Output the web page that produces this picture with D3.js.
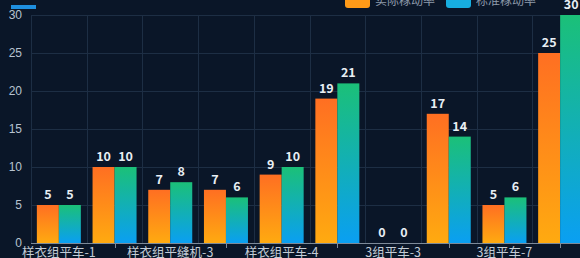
<!DOCTYPE html>
<html>
<head>
<meta charset="utf-8">
<script src="https://cdn.jsdelivr.net/npm/d3@7"></script>
<style>
  html, body { margin: 0; padding: 0; background: #0a1628; overflow: hidden; }
  svg { display: block; font-family: "Noto Sans CJK SC", "Noto Sans", sans-serif; }
</style>
</head>
<body>
<svg id="chart"></svg>
<script>
// data
const categories = ['样衣组平车-1', '样衣组平车-2', '样衣组平缝机-3', '样衣组平缝机-4', '样衣组平车-4',
                    '样衣组平车-5', '3组平车-3', '3组平车-5', '3组平车-7', '3组平车-8'];
const actualRate = [5, 10, 7, 7, 9, 19, 0, 17, 5, 25];
const standardRate = [5, 10, 8, 6, 10, 21, 0, 14, 6, 30];
const seriesNames = ['实际稼动率', '标准稼动率'];
const yTicks = [0, 5, 10, 15, 20, 25, 30];

const width = 580, height = 258;
const margin = {top: 15, left: 31, bottom: 15};

const svg = d3.select('#chart')
    .attr('width', width)
    .attr('height', height);

const defs = svg.append('defs');
const g1 = defs.append('linearGradient').attr('id', 'gOrange')
    .attr('x1', 0).attr('y1', 0).attr('x2', 0).attr('y2', 1);
g1.append('stop').attr('offset', '0%').attr('stop-color', '#ff6f22');
g1.append('stop').attr('offset', '100%').attr('stop-color', '#ffaa10');
const g2 = defs.append('linearGradient').attr('id', 'gGreen')
    .attr('x1', 0).attr('y1', 0).attr('x2', 0).attr('y2', 1);
g2.append('stop').attr('offset', '0%').attr('stop-color', '#1bc078');
g2.append('stop').attr('offset', '100%').attr('stop-color', '#0a9ff2');

const x = d3.scaleBand()
    .domain(categories)
    .range([margin.left, 588])
    .padding(0);

const y = d3.scaleLinear()
    .domain([0, 30])
    .range([243, margin.top]);

// grid
svg.append('g')
    .selectAll('line')
    .data(yTicks.slice(1))
    .join('line')
    .attr('x1', margin.left).attr('x2', width)
    .attr('y1', d => y(d) + 0.5).attr('y2', d => y(d) + 0.5)
    .attr('stroke', '#1d2e44').attr('stroke-width', 1);

svg.append('g')
    .selectAll('line')
    .data(categories)
    .join('line')
    .attr('x1', d => Math.round(x(d)) + 0.5).attr('x2', d => Math.round(x(d)) + 0.5)
    .attr('y1', y(30)).attr('y2', y(0))
    .attr('stroke', '#1d2e44').attr('stroke-width', 1);

// y axis
const yAxis = d3.axisLeft(y).tickValues(yTicks).tickSize(0).tickPadding(9);
svg.append('g')
    .attr('transform', `translate(${margin.left},0)`)
    .call(yAxis)
    .call(g => g.select('.domain').remove())
    .call(g => g.selectAll('text').attr('fill', '#b7c3d0').attr('font-size', 12));

// bars
const bw = 22;
const off = (x.bandwidth() - bw * 2) / 2;

svg.append('g')
    .selectAll('rect')
    .data(actualRate)
    .join('rect')
    .attr('x', (d, i) => x(categories[i]) + off)
    .attr('y', d => y(d))
    .attr('width', bw)
    .attr('height', d => y(0) - y(d))
    .attr('fill', 'url(#gOrange)');

svg.append('g')
    .selectAll('rect')
    .data(standardRate)
    .join('rect')
    .attr('x', (d, i) => x(categories[i]) + off + bw)
    .attr('y', d => y(d))
    .attr('width', bw)
    .attr('height', d => y(0) - y(d))
    .attr('fill', 'url(#gGreen)');

// value labels
[actualRate, standardRate].forEach((vals, s) => {
    svg.append('g')
        .selectAll('text')
        .data(vals)
        .join('text')
        .attr('x', (d, i) => x(categories[i]) + off + bw * s + bw / 2)
        .attr('y', d => y(d) - 6)
        .attr('text-anchor', 'middle')
        .attr('fill', '#e8eef4')
        .attr('font-size', 12.5)
        .attr('font-weight', 'bold')
        .text(d => d);
});

// x axis
const xAxisG = svg.append('g');
xAxisG.append('line')
    .attr('x1', margin.left).attr('x2', width)
    .attr('y1', y(0) + 0.5).attr('y2', y(0) + 0.5)
    .attr('stroke', '#7d8a99');

xAxisG.selectAll('.tick')
    .data(categories.filter((d, i) => i % 2 === 1))
    .join('line')
    .attr('x1', d => Math.round(x(d) + x.bandwidth() / 2) + 0.5)
    .attr('x2', d => Math.round(x(d) + x.bandwidth() / 2) + 0.5)
    .attr('y1', y(0)).attr('y2', y(0) + 5)
    .attr('stroke', '#7d8a99');

xAxisG.selectAll('text')
    .data(categories.filter((d, i) => i % 2 === 0))
    .join('text')
    .attr('x', d => x(d) + x.bandwidth() / 2)
    .attr('y', 257)
    .attr('text-anchor', 'middle')
    .attr('fill', '#c3ccd6')
    .attr('font-size', 12.5)
    .text(d => d);

// title decoration
svg.append('rect')
    .attr('x', 11).attr('y', 5).attr('width', 25).attr('height', 4)
    .attr('fill', '#1e8fe0');

// legend (cut off at top)
const legend = svg.append('g');
const legendX = [345, 446];
const legendFill = ['#ff9a18', '#17aee0'];
seriesNames.forEach((name, i) => {
    legend.append('rect')
        .attr('x', legendX[i]).attr('y', -6)
        .attr('width', 25).attr('height', 14)
        .attr('rx', 3)
        .attr('fill', legendFill[i]);
    legend.append('text')
        .attr('x', legendX[i] + 30).attr('y', 5)
        .attr('fill', '#8e9bab')
        .attr('font-size', 12)
        .text(name);
});
</script>
</body>
</html>
